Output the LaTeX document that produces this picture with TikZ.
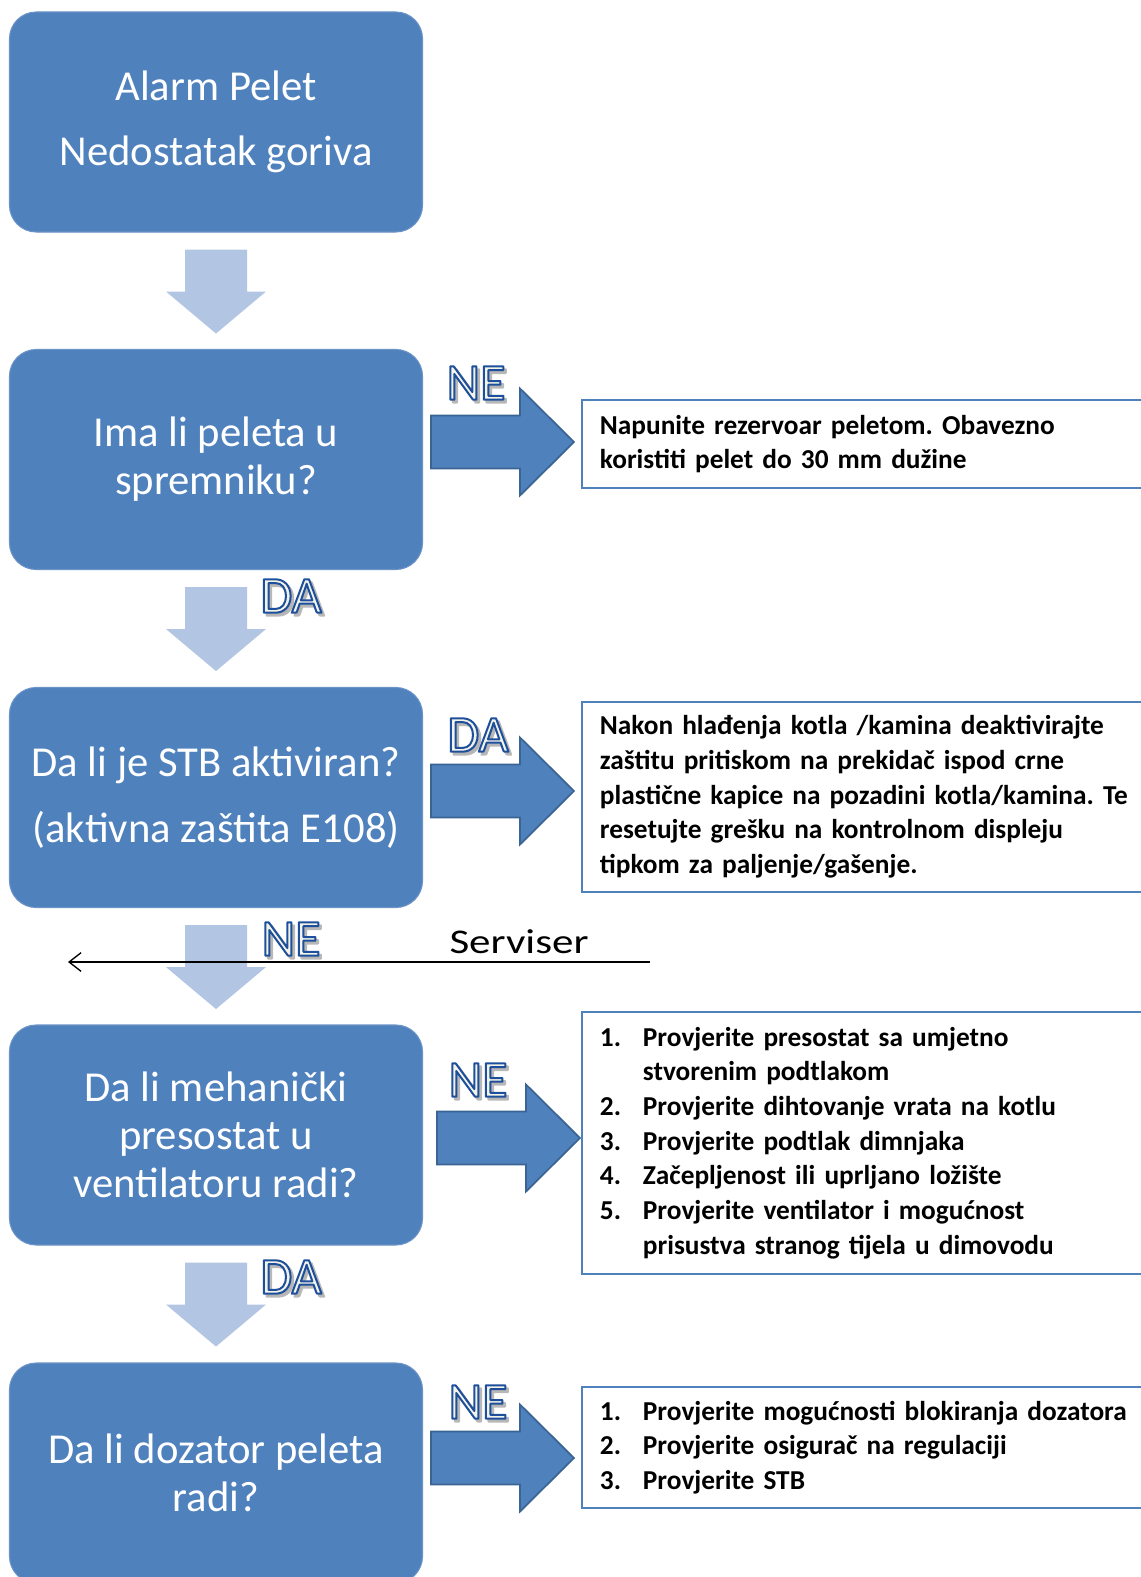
\documentclass[tikz,border=0pt]{standalone}
\usepackage{fontspec}
\setmainfont{Carlito}
\newfontfamily\servfont[FakeStretch=1.24]{Carlito}
\usetikzlibrary{arrows.meta}
\setlength{\parindent}{0pt}
\frenchspacing
\definecolor{boxblue}{HTML}{4F81BD}
\definecolor{boxrim}{HTML}{6A93C6}
\definecolor{downblue}{HTML}{B2C5E2}
\definecolor{arrowedge}{HTML}{3A6493}
\definecolor{lblfill}{HTML}{F3F3E8}
\definecolor{lblshade}{HTML}{B4B4B4}
\newcommand\itm[1]{\makebox[32.25pt][l]{#1}}
% outlined text: fill with current colour, stroke in dark blue
\newcommand\outlined[1]{\special{pdf:code q 2 Tr 1.5 w 1 j 0.118 0.31 0.612 RG}#1\special{pdf:code Q}}
\newcommand\shadowed[1]{\special{pdf:code q 2 Tr 1.5 w 1 j 0.72 0.72 0.72 RG}#1\special{pdf:code Q}}
\tikzset{
  decbox/.style={rectangle, rounded corners=20pt, fill=boxblue, draw=boxrim, line width=0.8pt,
    minimum width=309.75pt, minimum height=165pt, inner sep=0pt, text=white, align=center,
    font=\fontsize{32}{36}\selectfont},
  infobox/.style={rectangle, draw=boxblue, line width=1.4pt, fill=white, anchor=west,
    text width=450pt, inner xsep=13.5pt, inner ysep=0pt, align=left,
    font=\fontsize{20.5}{26}\selectfont\bfseries},
  downarr/.pic={\path[fill=downblue] (-31,0) -- (31,0) -- (31,42) -- (50,42) -- (0,84) -- (-50,42) -- (-31,42) -- cycle;},
  rightarr/.pic={\path[fill=boxblue, draw=arrowedge, line width=1.3pt, line join=miter]
     (0,-26.5) -- (89,-26.5) -- (89,-53.5) -- (143,0) -- (89,53.5) -- (89,26.5) -- (0,26.5) -- cycle;},
  lblbase/.style={inner sep=0pt, font=\fontsize{39}{40}\selectfont},
  servline/.style={line width=1.2pt, -{Straight Barb[length=9pt,width=14pt,line width=1pt]}},
}
\newcommand\ynlabel[3]{%
  \node[lblbase, text=lblshade] at ([xshift=2pt, yshift=-2.2pt]#2) {\shadowed{#3}};
  \node[lblbase, text=lblfill] (#1) at (#2) {\outlined{#3}};
}
\begin{document}
\begin{tikzpicture}[x=0.75pt,y=-0.75pt]
\useasboundingbox (0,0) rectangle (1141,1577);
\clip (0,0) rectangle (1141,1577);

% decision boxes
\node[decbox] (b1) at (216,122) {Alarm Pelet\\[13pt]Nedostatak goriva};
\node[decbox] (b2) at (216,459.5) {Ima li peleta u\\spremniku?};
\node[decbox] (b3) at (216,797.5) {Da li je STB aktiviran?\\[14pt](aktivna zaštita E108)};
\node[decbox] (b4) at (216,1135) {Da li mehanički\\presostat u\\ventilatoru radi?};
\node[decbox] (b5) at (216,1473) {Da li dozator peleta\\radi?};

% down arrows
\pic at ([yshift=-12.75pt]b1.south) {downarr};
\pic at ([yshift=-12.75pt]b2.south) {downarr};
\pic at ([yshift=-12.75pt]b3.south) {downarr};
\pic at ([yshift=-12.75pt]b4.south) {downarr};

% info boxes
\node[infobox, minimum height=66pt] (i1) at (581,444) {Napunite rezervoar peletom. Obavezno\\koristiti pelet do 30 mm dužine};
\node[infobox, minimum height=142.5pt] (i2) at (581,797) {Nakon hlađenja kotla /kamina deaktivirajte\\zaštitu pritiskom na prekidač ispod crne\\plastične kapice na pozadini kotla/kamina. Te\\resetujte grešku na kontrolnom displeju\\tipkom za paljenje/gašenje.};
\node[infobox, minimum height=196.5pt] (i3) at (581,1143) {\itm{1.}Provjerite presostat sa umjetno\\\itm{}stvorenim podtlakom\\\itm{2.}Provjerite dihtovanje vrata na kotlu\\\itm{3.}Provjerite podtlak dimnjaka\\\itm{4.}Začepljenost ili uprljano ložište\\\itm{5.}Provjerite ventilator i mogućnost\\\itm{}prisustva stranog tijela u dimovodu};
\node[infobox, minimum height=90.75pt] (i4) at (581,1447.5) {\itm{1.}Provjerite mogućnosti blokiranja dozatora\\\itm{2.}Provjerite osigurač na regulaciji\\\itm{3.}Provjerite STB};

% right block arrows
\pic at (431,442) {rightarr};
\pic at (431,791) {rightarr};
\pic at (437,1138) {rightarr};
\pic at (431,1458) {rightarr};

% labels
\ynlabel{l1}{476,383}{NE}
\ynlabel{l2}{291,596}{DA}
\ynlabel{l3}{478,735}{DA}
\ynlabel{l4}{291,939}{NE}
\ynlabel{l5}{478,1080}{NE}
\ynlabel{l6}{291,1277}{DA}
\ynlabel{l7}{478,1402}{NE}

% Serviser
\coordinate (sA) at (650,962);
\coordinate (sB) at (68,962);
\draw[servline] (sA) -- (sB);
\node[anchor=base, inner sep=0pt, font=\servfont\fontsize{26}{30}\selectfont] (serv) at (519,953) {Serviser};
\end{tikzpicture}
\end{document}
